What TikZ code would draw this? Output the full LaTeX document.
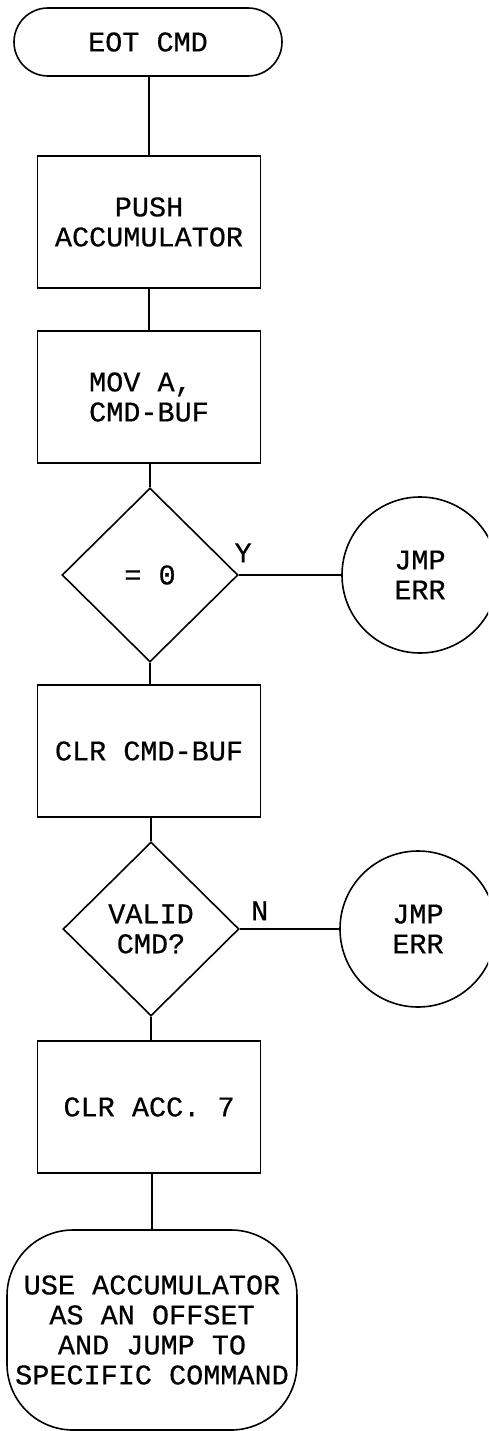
\documentclass[tikz,border=0pt]{standalone}
\usepackage{fontspec}
\setmonofont[FakeBold=0.5]{Liberation Mono}
\usetikzlibrary{shapes.geometric}
\begin{document}
\begin{tikzpicture}[x=1pt,y=-1pt,
  every node/.style={font=\ttfamily\fontsize{28.5}{30}\selectfont},
  line/.style={line width=1.6pt},
  procbox/.style={draw,line width=1.6pt,rectangle,minimum width=223pt,minimum height=132pt,inner sep=0pt,align=center},
  termbox/.style={draw,line width=1.6pt,rectangle,inner sep=0pt,align=center},
  decbox/.style={draw,line width=1.6pt,diamond,aspect=1,minimum width=176pt,minimum height=174pt,inner sep=0pt,align=center},
  errcirc/.style={draw,line width=1.6pt,circle,minimum size=156pt,inner sep=0pt,align=center},
  lbl/.style={inner sep=0pt}
]
\clip (0,0) rectangle (488,1431);
\fill[white] (0,0) rectangle (488,1431);
\node[termbox,rounded corners=34pt,minimum width=268pt,minimum height=68pt] (start) at (148,42) {EOT CMD};
\node[procbox] (push) at (149,222) {PUSH\\ACCUMULATOR};
\node[procbox,align=left] (mov) at (149,397) {MOV A,\\CMD-BUF};
\node[decbox] (zero) at (150,575) {= 0};
\node[errcirc] (err1) at (420,575) {JMP\\ERR};
\node[procbox] (clr) at (149,751) {CLR CMD-BUF};
\node[decbox] (valid) at (151,929) {VALID\\CMD?};
\node[errcirc] (err2) at (418,929) {JMP\\ERR};
\node[procbox] (acc) at (149,1107) {CLR ACC. 7};
\node[termbox,rounded corners=66pt,minimum width=290pt,minimum height=200pt] (jump) at (152,1330) {USE ACCUMULATOR\\AS AN OFFSET\\AND JUMP TO\\SPECIFIC COMMAND};

\draw[line] (start.south -| push.north) -- (push.north);
\draw[line] (push) -- (mov);
\draw[line] (mov.south -| zero.north) -- (zero.north);
\draw[line] (zero.south) -- (zero.south |- clr.north);
\draw[line] (clr.south -| valid.north) -- (valid.north);
\draw[line] (valid.south) -- (valid.south |- acc.north);
\draw[line] (acc.south -| jump.north) -- (jump.north);
\draw[line] (zero.east) -- node[lbl,at start,anchor=south west,xshift=-5pt,yshift=12pt] {Y} (zero.east -| err1.west);
\draw[line] (valid.east) -- node[lbl,pos=0.2,anchor=south,yshift=8pt] {N} (valid.east -| err2.west);
\end{tikzpicture}
\end{document}
